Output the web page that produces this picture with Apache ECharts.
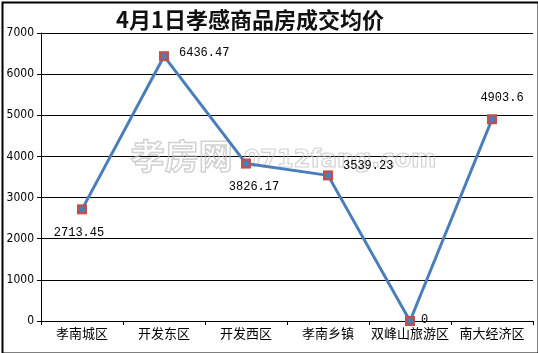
<!DOCTYPE html>
<html><head><meta charset="utf-8">
<script src="https://cdn.jsdelivr.net/npm/echarts@6/dist/echarts.min.js"></script>
<style>html,body{margin:0;padding:0;background:#fff}#c{width:538px;height:353px;box-sizing:border-box}</style>
</head><body><div id="c"></div>
<script>
const titleText = '4月1日孝感商品房成交均价';
const categories = ['孝南城区','开发东区','开发西区','孝南乡镇','双峰山旅游区','南大经济区'];
const prices = [2713.45, 6436.47, 3826.17, 3539.23, 0, 4903.6];
const yTicks = [0, 1000, 2000, 3000, 4000, 5000, 6000, 7000];

const labelCfg = [
  {position:'bottom', distance:12, offset:[-3,0]},
  {position:'right', distance:10, offset:[0,-3]},
  {position:'bottom', distance:12, offset:[8,0]},
  {position:'right', distance:10, offset:[0,-10]},
  {position:'right', distance:6, offset:[0,-1]},
  {position:'top', distance:10, offset:[10,0]}
];
const chart = echarts.init(document.getElementById('c'));
chart.setOption({
  animation:false,
  backgroundColor:'#fff',
  title:{text:titleText,left:245,top:4,textAlign:'center',
    textStyle:{fontFamily:'Noto Sans CJK SC',fontWeight:'bold',fontSize:22,color:'#111',
      textShadowColor:'rgba(60,90,140,0.5)',textShadowOffsetX:1,textShadowOffsetY:1}},
  graphic:[
    {type:'rect',left:0,top:0,shape:{x:1,y:1,width:536,height:351},style:{fill:'none',stroke:'#000',lineWidth:2},z:100},
    {type:'text',left:130,top:138,style:{text:'孝房网',font:'bold 34px "Noto Sans CJK SC"',fill:'rgba(255,255,255,0)',stroke:'rgba(190,190,190,0.7)',lineWidth:1.5},z:1},
    {type:'text',left:243,top:148,style:{text:'0712fang.com',font:'bold 24px "DejaVu Sans"',fill:'rgba(255,255,255,0)',stroke:'rgba(190,190,190,0.7)',lineWidth:1.2},z:1}
  ],
  grid:{left:41,right:5,top:33,bottom:32,containLabel:false},
  xAxis:{type:'category',data:categories,boundaryGap:true,
    axisLine:{lineStyle:{color:'#000',width:1}},
    axisTick:{show:true,length:4,interval:0,lineStyle:{color:'#000'}},
    axisLabel:{color:'#000',fontSize:13,fontFamily:'Noto Sans CJK SC',margin:6,interval:0},
    splitLine:{show:false}},
  yAxis:{type:'value',min:yTicks[0],max:yTicks[yTicks.length-1],interval:1000,
    axisLine:{show:true,lineStyle:{color:'#000'}},
    axisTick:{show:true,length:4,lineStyle:{color:'#000'}},
    axisLabel:{color:'#000',fontSize:12,fontFamily:'DejaVu Sans Condensed',margin:7,formatter:v=>String(v)},
    splitLine:{show:true,lineStyle:{color:'#000',width:1}}},
  series:[
    {type:'line',data:prices.map((v,i)=>({value:v,label:Object.assign({show:true},labelCfg[i])})),
      lineStyle:{color:'#4a7ebb',width:3},
      symbol:'rect',symbolSize:10,itemStyle:{color:'#c0504d'},
      label:{color:'#000',fontSize:12,fontFamily:'Liberation Mono',formatter:p=>String(p.value)},
      z:3},
    {type:'line',data:prices,lineStyle:{width:0,opacity:0},symbol:'circle',symbolSize:6,
      itemStyle:{color:'#4a7ebb'},label:{show:false},z:4,silent:true}
  ]
});
</script></body></html>
